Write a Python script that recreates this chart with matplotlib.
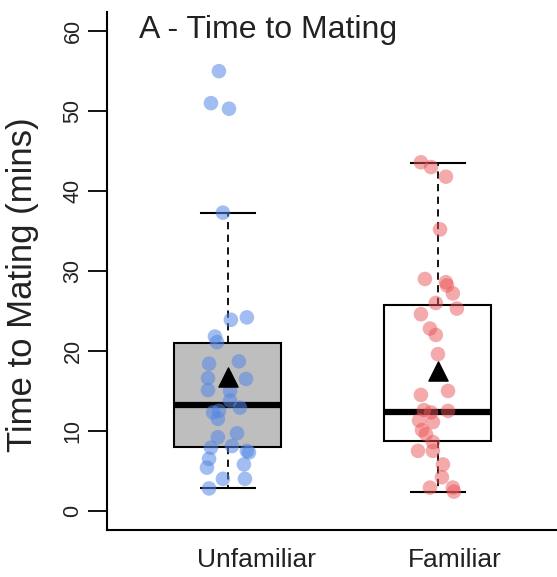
import matplotlib
matplotlib.use('Agg')
import matplotlib.pyplot as plt

plt.rcParams['font.family'] = ['Liberation Sans', 'DejaVu Sans']

groups = ['Unfamiliar', 'Familiar']
label_pos = [1.137, 2.08]

# box summary
q1 = [8.0, 8.7]
med = [13.2, 12.4]
q3 = [21.0, 25.8]
whislo = [2.9, 2.4]
whishi = [37.3, 43.5]
means = [16.8, 17.5]

# jittered raw points (x = jittered group position)
unfam_y = [55.0, 51.0, 50.3, 37.3, 24.2, 23.9, 21.8, 21.1, 18.7, 18.4, 16.6,
           16.5, 15.1, 15.0, 13.8, 12.9, 12.5, 12.3, 11.5, 9.7, 9.2, 8.1,
           7.9, 7.5, 7.3, 6.5, 5.8, 5.4, 4.0, 4.0, 2.8]
unfam_x = [0.957, 0.919, 1.005, 0.976, 1.090, 1.014, 0.938, 0.948, 1.052,
           0.910, 0.905, 1.086, 0.905, 1.010, 1.010, 1.057, 0.957, 0.929,
           0.952, 1.043, 0.952, 1.019, 0.919, 1.090, 1.100, 0.910, 1.076,
           0.900, 1.081, 0.976, 0.910]
fam_y = [43.6, 43.0, 41.8, 35.2, 29.0, 28.6, 28.2, 27.2, 26.0, 25.3, 24.6,
         22.8, 22.0, 19.6, 15.0, 14.5, 12.6, 12.3, 12.5, 11.3, 11.1, 10.1,
         9.6, 8.6, 7.5, 7.5, 5.8, 4.2, 2.9, 2.9, 2.4]
fam_x = [1.919, 1.967, 2.038, 2.010, 1.938, 2.038, 2.043, 2.071, 1.990,
         2.090, 1.919, 1.962, 1.990, 2.000, 2.048, 1.919, 1.933, 1.967,
         2.048, 1.910, 1.976, 1.924, 1.943, 1.976, 1.905, 1.976, 2.024,
         2.019, 1.962, 2.071, 2.076]

fig = plt.figure(figsize=(5.57, 5.77), dpi=100)
ax = fig.add_axes([107 / 557, 1 - 530 / 577, 450 / 557, 518 / 577])

stats = []
for i in range(len(groups)):
    stats.append({'med': med[i], 'q1': q1[i], 'q3': q3[i],
                  'whislo': whislo[i], 'whishi': whishi[i], 'fliers': []})

bp = ax.bxp(stats, positions=[1, 2], widths=0.51, capwidths=0.26,
            patch_artist=True, showfliers=False, manage_ticks=False,
            boxprops=dict(linewidth=1.5, edgecolor='black'),
            medianprops=dict(color='black', linewidth=4.5, solid_capstyle='butt'),
            whiskerprops=dict(color='black', linewidth=1.3, linestyle=(0, (4, 3))),
            capprops=dict(color='black', linewidth=1.5))
bp['boxes'][0].set_facecolor('#bebebe')
bp['boxes'][1].set_facecolor('white')

ax.scatter(unfam_x, unfam_y, s=110, color=(0.33, 0.53, 0.90), alpha=0.55,
           edgecolors='none', zorder=4)
ax.scatter(fam_x, fam_y, s=110, color=(0.92, 0.33, 0.35), alpha=0.5,
           edgecolors='none', zorder=4)
ax.scatter([1, 2], means, marker='^', s=190, color='black', zorder=5)

ax.set_xlim(0.424, 2.567)
ax.set_ylim(-2.4, 62.4)
ax.set_yticks([0, 10, 20, 30, 40, 50, 60])
ax.set_xticks(label_pos)
ax.set_xticklabels(groups, fontsize=19, color='#222222')
ax.tick_params(axis='x', length=0, pad=13)
ax.tick_params(axis='y', length=14, width=1.3, pad=3, labelsize=15.5,
               labelcolor='#222222')
for lab in ax.get_yticklabels():
    lab.set_rotation(90)
    lab.set_va('center')

ax.spines['top'].set_visible(False)
ax.spines['right'].set_visible(False)
ax.spines['left'].set_linewidth(1.5)
ax.spines['bottom'].set_linewidth(1.5)

ax.set_ylabel('Time to Mating (mins)', fontsize=25, color='#222222')
ax.yaxis.set_label_coords(-0.15, 0.473)

ax.text(0.578, 60.2, 'A - Time to Mating', fontsize=23, ha='left', va='center',
        color='#222222')

fig.savefig('out.png', dpi=100)
